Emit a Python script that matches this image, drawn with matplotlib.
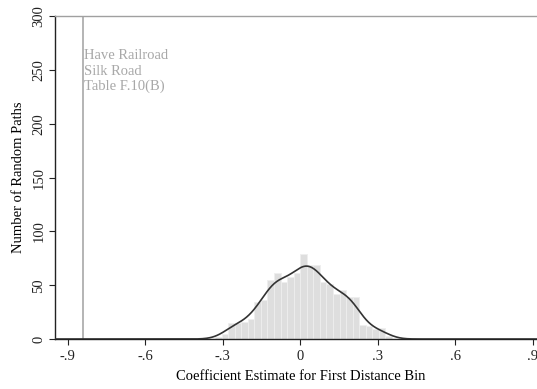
import numpy as np
import matplotlib
matplotlib.use('Agg')
from matplotlib import pyplot as plt

plt.rcParams['font.family'] = 'Liberation Serif'

# histogram of placebo estimates: bins of width w, left edge = k * w
bin_width = 0.0254
bin_index = list(range(-13, 14))
counts = [2, 5, 15, 15, 16, 19, 34, 36, 55, 61, 53, 58, 61,
          79, 69, 69, 53, 51, 42, 46, 39, 39, 13, 12, 9, 10, 3]

actual_estimate = -0.842
note_lines = ['Have Railroad', 'Silk Road', 'Table F.10(B)']

xticks = [-0.9, -0.6, -0.3, 0, 0.3, 0.6, 0.9]
xtick_labels = ['-.9', '-.6', '-.3', '0', '.3', '.6', '.9']
yticks = [0, 50, 100, 150, 200, 250, 300]

edges = np.array(bin_index) * bin_width
centers = edges + bin_width / 2
counts_arr = np.array(counts, dtype=float)

fig = plt.figure(figsize=(5.37, 3.89), dpi=100)
ax = fig.add_axes([0.1024, 0.1285, 0.9134, 0.830])

ax.bar(edges, counts_arr, width=bin_width, align='edge',
       color='#dedede', edgecolor='#eeeeee', linewidth=0.6, zorder=2)

# kernel density of the estimates, scaled to frequency
bw = 0.038
grid = np.linspace(-0.95, 0.95, 600)
dens = np.zeros_like(grid)
for c, n in zip(centers, counts_arr):
    dens += n * np.exp(-0.5 * ((grid - c) / bw) ** 2) / (bw * np.sqrt(2 * np.pi))
dens *= bin_width
ax.plot(grid, dens, color='#333333', lw=1.2, zorder=3)

ax.axvline(actual_estimate, color='#b4b4b4', lw=1.4, zorder=1)
for i, line in enumerate(note_lines):
    ax.text(actual_estimate + 0.003, 263 - i * 14, line, color='#a8a8a8',
            fontsize=10.5, ha='left', va='center')

ax.set_xlim(-0.95, 0.95)
ax.set_ylim(0, 300)
ax.set_xticks(xticks)
ax.set_xticklabels(xtick_labels)
ax.set_yticks(yticks)
ax.set_yticklabels([str(v) for v in yticks], rotation=90, va='center')
ax.tick_params(axis='both', direction='out', length=4, width=0.8,
               labelsize=10.5, colors='#222222')
ax.tick_params(axis='y', pad=3)
ax.tick_params(axis='x', pad=4)

for s in ['left', 'bottom']:
    ax.spines[s].set_color('#222222')
    ax.spines[s].set_linewidth(1.0)
for s in ['top', 'right']:
    ax.spines[s].set_color('#a0a0a0')
    ax.spines[s].set_linewidth(1.0)

ax.set_xlabel('Coefficient Estimate for First Distance Bin', fontsize=10.5, labelpad=5)
ax.set_ylabel('Number of Random Paths', fontsize=10.5, labelpad=5)

fig.savefig('out.png', dpi=100)
